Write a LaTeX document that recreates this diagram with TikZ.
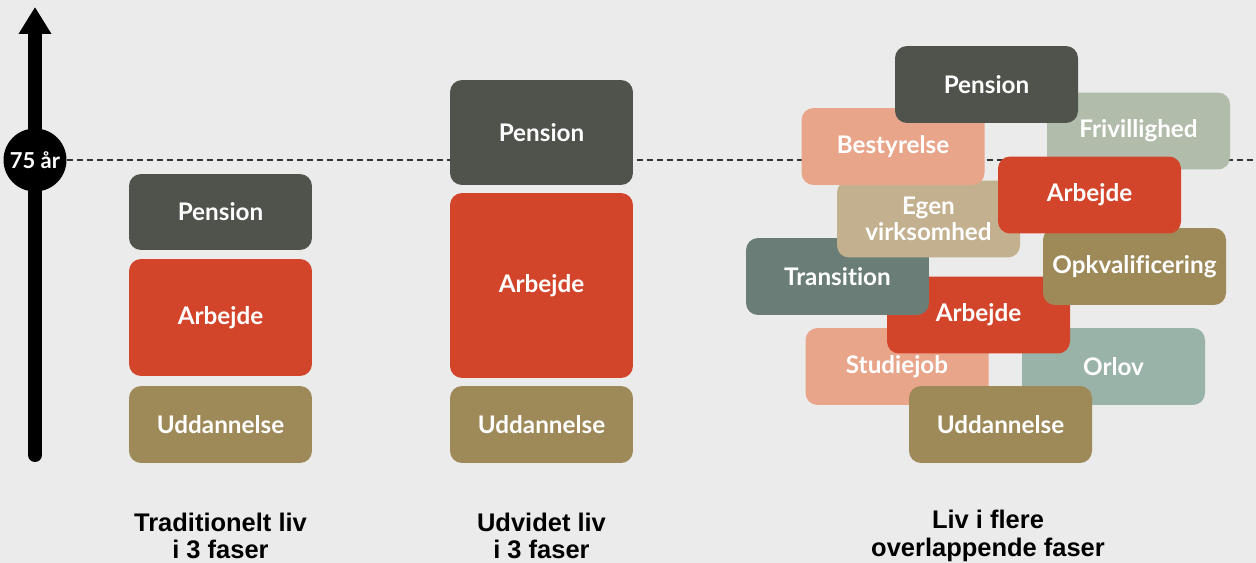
\documentclass[tikz,border=0pt]{standalone}
\usepackage{fontspec}
\setmainfont{Lato}[Ligatures={NoCommon}]
\newfontfamily\titlefont{Liberation Sans}
\usetikzlibrary{arrows.meta}
\definecolor{bggray}{HTML}{EBEBEB}
\definecolor{slate}{HTML}{4F534B}
\definecolor{brick}{HTML}{D3452A}
\definecolor{ochre}{HTML}{9E8958}
\definecolor{salmon}{HTML}{E9A58A}
\definecolor{sage}{HTML}{B1BCAA}
\definecolor{sand}{HTML}{C2B08F}
\definecolor{pine}{HTML}{6A7D76}
\definecolor{mint}{HTML}{9AB3A9}
\begin{document}
\begin{tikzpicture}[x=0.02cm, y=-0.02cm,
  phase/.style={rectangle, rounded corners=0.24cm, minimum width=3.66cm, minimum height=1.54cm,
    inner sep=0pt, text=white, align=center, font=\fontsize{13.8}{15}\selectfont\bfseries},
  caption/.style={align=center, font=\titlefont\fontsize{14.5}{15.5}\selectfont\bfseries}]
\fill[bggray] (0,0) rectangle (1256,563);
\useasboundingbox (0,0) rectangle (1256,563);
% age axis
\coordinate (axbot) at (35,455);
\coordinate (axtop) at (35,7);
\coordinate (dashend) at (1256,160);
\draw[line width=0.28cm, line cap=round, -{Triangle[width=0.62cm,length=0.54cm]}] (axbot) -- (axtop);
\node[circle, fill=black, minimum size=1.26cm, inner sep=0pt, text=white,
  font=\fontsize{12.5}{14}\selectfont\bfseries] (age) at (35,160) {75 år};
\draw[black!80, line width=0.03cm, dash pattern=on 0.12cm off 0.08cm] (age.east) -- (dashend);
% traditionelt liv
\node[phase, fill=slate, minimum height=1.52cm] (tpens) at (220.5,212) {Pension};
\node[phase, fill=brick, minimum height=2.34cm] (tarb) at (220.5,317.5) {Arbejde};
\node[phase, fill=ochre] (tudd) at (220.5,424.5) {Uddannelse};
% udvidet liv
\node[phase, fill=slate, minimum height=2.1cm] (upens) at (541.5,132.5) {Pension};
\node[phase, fill=brick, minimum height=3.7cm] (uarb) at (541.5,285.5) {Arbejde};
\node[phase, fill=ochre] (uudd) at (541.5,424.5) {Uddannelse};
% flere faser, bottom first
\node[phase, fill=salmon] (fstud) at (897,366.5) {Studiejob};
\node[phase, fill=mint] (forl) at (1113.5,366.5) {Orlov};
\node[phase, fill=ochre] (fudd) at (1000.5,424.5) {Uddannelse};
\node[phase, fill=brick] (farb2) at (978.5,315) {Arbejde};
\node[phase, fill=pine] (ftrans) at (837.5,276.5) {Transition};
\node[phase, fill=ochre] (fopk) at (1134.5,266.5) {Opkvalificering};
\node[phase, fill=sand] (fegen) at (928.5,219) {Egen\\virksomhed};
\node[phase, fill=salmon] (fbest) at (893,146.5) {Bestyrelse};
\node[phase, fill=sage] (ffri) at (1138.5,131) {Frivillighed};
\node[phase, fill=brick] (farb1) at (1089.5,195) {Arbejde};
\node[phase, fill=slate] (fpens) at (986.5,84.5) {Pension};
% captions
\node[caption] (ctrad) at (220.5,536) {Traditionelt liv\\i 3 faser};
\node[caption] (cudv) at (541.5,536) {Udvidet liv\\i 3 faser};
\node[caption] (cflere) at (988,536) {Liv i flere\\overlappende faser};
\end{tikzpicture}
\end{document}
